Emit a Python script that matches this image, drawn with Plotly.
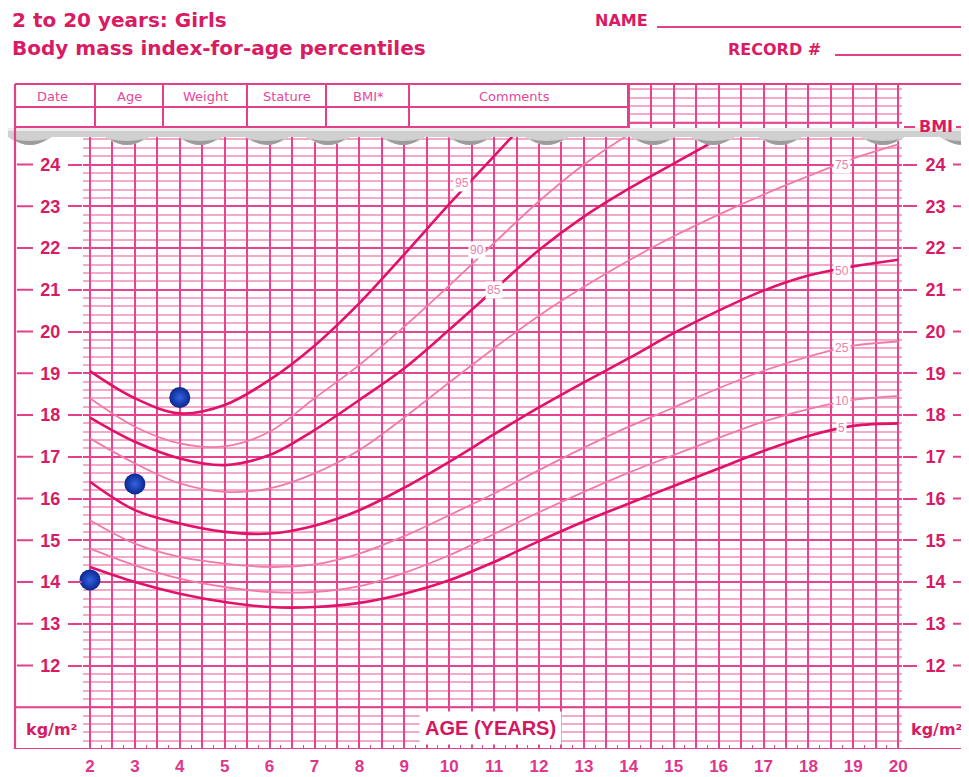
import plotly.graph_objects as go

# ---------------- data ----------------
ages = [2, 3, 4, 5, 6, 7, 8, 9, 10, 11, 12, 13, 14, 15, 16, 17, 18, 19, 20]

p5 = [14.36, 14.0, 13.72, 13.52, 13.4, 13.4, 13.5, 13.72, 14.04, 14.48,
      14.98, 15.45, 15.88, 16.3, 16.72, 17.14, 17.5, 17.74, 17.8]
p10 = [14.8, 14.4, 14.08, 13.88, 13.76, 13.76, 13.9, 14.22, 14.64, 15.15,
       15.67, 16.16, 16.62, 17.04, 17.45, 17.84, 18.14, 18.36, 18.46]
p25 = [15.48, 14.92, 14.6, 14.44, 14.36, 14.42, 14.68, 15.1, 15.6, 16.12,
       16.68, 17.22, 17.72, 18.18, 18.64, 19.06, 19.4, 19.66, 19.76]
p50 = [16.4, 15.72, 15.4, 15.2, 15.16, 15.35, 15.72, 16.26, 16.88, 17.54,
       18.18, 18.78, 19.36, 19.96, 20.5, 20.98, 21.34, 21.56, 21.72]
p75 = [17.44, 16.84, 16.36, 16.16, 16.24, 16.6, 17.16, 17.94, 18.78, 19.6,
       20.38, 21.07, 21.7, 22.28, 22.8, 23.28, 23.72, 24.14, 24.48]
age_p85 = [2, 3, 4, 5, 6, 7, 8, 9, 10, 11, 12, 13, 14, 15, 16]
p85 = [17.94, 17.36, 16.96, 16.8, 17.04, 17.64, 18.36, 19.12, 20.04, 21.0,
       21.95, 22.75, 23.42, 24.02, 24.62]
age_p90 = [2, 3, 4, 5, 6, 7, 8, 9, 10, 11, 12, 13, 14]
p90 = [18.4, 17.72, 17.32, 17.25, 17.6, 18.4, 19.2, 20.12, 21.1, 22.12,
       23.12, 24.0, 24.72]
age_p95 = [2, 3, 4, 5, 6, 7, 8, 9, 10, 11, 11.6]
p95 = [19.05, 18.4, 18.04, 18.24, 18.84, 19.66, 20.68, 21.85, 23.05, 24.2, 24.9]

patient_age = [2, 3, 4]
patient_bmi = [14.05, 16.35, 18.42]

bmi_ticks = [12, 13, 14, 15, 16, 17, 18, 19, 20, 21, 22, 23, 24]
label_pos = {  # percentile label: (age, bmi)
    "95": (10.29, 23.55), "90": (10.63, 21.96), "85": (11.0, 21.0),
    "75": (18.74, 24.0), "50": (18.74, 21.44), "25": (18.74, 19.61),
    "10": (18.74, 18.33), "5": (18.74, 17.69),
}
table_heads = ["Date", "Age", "Weight", "Stature", "BMI*", "Comments"]

# ---------------- styling / geometry ----------------
# screen coordinates of the reference; the page body adds an 8px margin
OFF = 8
SW, SH = 969, 777
L, R, T, B = 83, 902, 84, 749
TXT = "#d81b63"
PINK = "#e2408a"
GRID_MAJ = "#e6448e"
GRID_MIN = "#f5a8c7"
DARK = "#e0126a"
LIGHT = "#f07aaa"
FONT = "Liberation Sans, Arial, sans-serif"
WIDE = "DejaVu Sans, Verdana, sans-serif"
XS = 44.9   # px per year
YS = 41.75  # px per BMI unit


def px_x(X):
    return (X - L) / (R - L)


def px_y(Y):
    return (B - Y) / (B - T)


fig = go.Figure()

curves = [
    (ages, p5, DARK, 2.6), (ages, p10, LIGHT, 1.8), (ages, p25, LIGHT, 1.8),
    (ages, p50, DARK, 2.6), (ages, p75, LIGHT, 1.8), (age_p85, p85, DARK, 2.6),
    (age_p90, p90, LIGHT, 1.8), (age_p95, p95, DARK, 2.6),
]
for xs, ys, col, w in curves:
    fig.add_trace(go.Scatter(x=xs, y=ys, mode="lines",
                             line=dict(color=col, width=w, shape="spline", smoothing=1.0),
                             hoverinfo="skip"))

fig.add_trace(go.Scatter(
    x=patient_age, y=patient_bmi, mode="markers", cliponaxis=False,
    marker=dict(size=21, color="#0a2890",
                gradient=dict(type="radial", color="#3562e0"),
                line=dict(width=0)),
    hoverinfo="skip"))

# invisible trace so the right-hand axis is drawn
fig.add_trace(go.Scatter(x=patient_age[:1], y=patient_bmi[:1], yaxis="y2",
                         mode="markers", marker=dict(opacity=0), hoverinfo="skip"))

half_years = [ages[0] + 0.5 * i for i in range(2 * (ages[-1] - ages[0]) + 1)]
half_text = [str(int(v)) if v == int(v) else "" for v in half_years]

x0 = ages[0] - (90 - L) / XS
yr = [10.0, 10.0 + (B - T) / YS]

fig.update_layout(
    width=SW - OFF, height=SH - OFF,
    margin=dict(l=L - OFF, r=(SW - OFF) - (R - OFF), t=T - OFF, b=(SH - OFF) - (B - OFF),
                autoexpand=False),
    paper_bgcolor="white", plot_bgcolor="white",
    showlegend=False,
    font=dict(family=FONT, color=TXT),
    xaxis=dict(range=[x0, x0 + (R - L) / XS], automargin=False,
               tickmode="array", tickvals=half_years, ticktext=half_text,
               ticks="", showgrid=True, gridcolor=GRID_MAJ, gridwidth=1.6,
               zeroline=False, showline=False,
               tickfont=dict(size=17, family=FONT, color="#e0358a", weight="bold"),
               ticklabelstandoff=5,
               minor=dict(tickmode="linear", tick0=2.25, dtick=0.25, ticks="inside",
                          ticklen=4, tickcolor=GRID_MAJ, tickwidth=1, showgrid=False)),
    yaxis=dict(range=yr, automargin=False,
               tickmode="array", tickvals=bmi_ticks,
               ticks="outside", ticklen=14, tickwidth=2, tickcolor=PINK,
               ticklabelstandoff=4,
               showgrid=True, gridcolor=GRID_MAJ, gridwidth=1.8,
               zeroline=False, showline=False,
               tickfont=dict(size=18, family=FONT, color=TXT, weight="bold"),
               minor=dict(tickmode="linear", tick0=0, dtick=0.2, showgrid=True,
                          gridcolor=GRID_MIN, gridwidth=1.6, ticks="")),
    yaxis2=dict(range=yr, overlaying="y", side="right", automargin=False,
                tickmode="array", tickvals=bmi_ticks,
                ticks="outside", ticklen=14, tickwidth=2, tickcolor=PINK,
                ticklabelstandoff=5,
                showgrid=False, zeroline=False, showline=False,
                tickfont=dict(size=18, family=FONT, color=TXT, weight="bold")),
)

shapes = []


def pline(x0_, y0_, x1_, y1_, color=PINK, width=2):
    shapes.append(dict(type="line", xref="paper", yref="paper",
                       x0=px_x(x0_), y0=px_y(y0_), x1=px_x(x1_), y1=px_y(y1_),
                       line=dict(color=color, width=width), layer="above"))


# white cover over the upper-left header part of the plotting area
shapes.append(dict(type="rect", xref="paper", yref="paper",
                   x0=px_x(16), x1=px_x(628), y0=px_y(131), y1=px_y(84),
                   fillcolor="white", line=dict(width=0), layer="above"))

# dark integer lines outside the labelled range
for v in (11, 10):
    shapes.append(dict(type="line", xref="paper", yref="y", x0=px_x(15), x1=px_x(SW),
                       y0=v, y1=v, line=dict(color=PINK, width=2), layer="above"))
shapes.append(dict(type="line", xref="paper", yref="y", x0=px_x(628), x1=1,
                   y0=25, y1=25, line=dict(color=GRID_MAJ, width=1.8), layer="above"))

# torn paper edge
dips = [962, 883, 780, 713, 653, 547, 470, 403, 328, 267, 200, 127, 30]
pts = [f"M{px_x(0)},{px_y(128)}", f"L{px_x(SW)},{px_y(128)}", f"L{px_x(SW)},{px_y(137)}"]
for d in dips:
    pts.append(f"L{px_x(d + 22)},{px_y(137)}")
    pts.append(f"Q{px_x(d)},{px_y(153)} {px_x(d - 22)},{px_y(137)}")
pts.append(f"L{px_x(0)},{px_y(137)} Z")
shapes.append(dict(type="path", xref="paper", yref="paper", path=" ".join(pts),
                   fillcolor="#d0d0d0", line=dict(width=0), layer="above"))
shapes.append(dict(type="rect", xref="paper", yref="paper",
                   x0=px_x(0), x1=px_x(SW), y0=px_y(131), y1=px_y(128),
                   fillcolor="#ececec", line=dict(width=0), layer="above"))
for d in dips:
    p = (f"M{px_x(d + 17)},{px_y(139)} Q{px_x(d)},{px_y(151)} {px_x(d - 17)},{px_y(139)} "
         f"Q{px_x(d)},{px_y(143)} {px_x(d + 17)},{px_y(139)} Z")
    shapes.append(dict(type="path", xref="paper", yref="paper", path=p,
                       fillcolor="#9c9c9c", line=dict(width=0), layer="above"))

# frame and record table
pline(15, 84, SW, 84, width=2.2)
pline(15, 84, 15, 749, width=2.2)
pline(15, 107, 628, 107)
pline(15, 127, 628, 127)
for X in (95, 163, 247, 326, 409, 628):
    pline(X, 84, X, 127)
pline(657, 27, SW, 27)
pline(835, 55, SW, 55)
pline(904, 127, 915, 127)
pline(956, 127, SW, 127)

# outer dashes beside the BMI labels
for v in bmi_ticks:
    shapes.append(dict(type="line", xref="paper", yref="y", x0=px_x(17), x1=px_x(33),
                       y0=v, y1=v, line=dict(color=PINK, width=2), layer="above"))
    shapes.append(dict(type="line", xref="paper", yref="y", x0=px_x(953), x1=px_x(SW),
                       y0=v, y1=v, line=dict(color=PINK, width=2), layer="above"))

fig.update_layout(shapes=shapes)

ann = []


def ptext(X, Y, text, size, bold=True, anchor="left", color=TXT, family=WIDE, **kw):
    ann.append(dict(xref="paper", yref="paper", x=px_x(X), y=px_y(Y), text=text,
                    showarrow=False, xanchor=anchor, yanchor="middle",
                    font=dict(size=size, family=family, color=color,
                              weight="bold" if bold else "normal"), **kw))


ptext(10, 20, "2 to 20 years: Girls", 20)
ptext(10, 48, "Body mass index-for-age percentiles", 20)
ptext(593, 21, "NAME", 16)
ptext(726, 49, "RECORD #", 16)
for X, t in zip((52, 129, 205, 287, 368, 514), table_heads):
    ptext(X, 97, t, 13, bold=False, anchor="center", color="#e4479a")
ptext(936, 127, "BMI", 16, anchor="center")
ptext(52, 729, "kg/m²", 16, anchor="center")
ptext(937, 729, "kg/m²", 16, anchor="center")
ptext(490, 728, "AGE (YEARS)", 20, anchor="center", color="#d41660", family=FONT,
      bgcolor="white", borderpad=5)

for name, (a, b) in label_pos.items():
    ann.append(dict(x=a, y=b, xref="x", yref="y", text=name, showarrow=False,
                    bgcolor="white", borderpad=1,
                    font=dict(size=12, family=FONT, color="#ee7eaa")))

fig.update_layout(annotations=ann)

fig.write_html("out.html")
